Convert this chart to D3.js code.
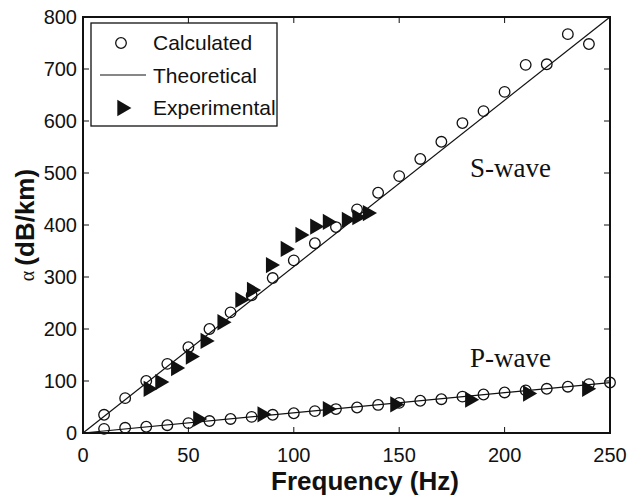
<!DOCTYPE html>
<head>
  <meta charset="utf-8">
  <script src="https://cdnjs.cloudflare.com/ajax/libs/d3/7.8.5/d3.min.js"></script>
  <style>
    body { margin:0; background:#fff; }
    text { fill:#111; }
  </style>
</head>
<body>
<div id="vis"></div>
<script>
// frequencies (Hz) for the calculated points
var freqS = [10,20,30,40,50,60,70,80,90,100,110,120,130,140,150,160,170,180,190,200,210,220,230,240];
var calcS = [35,67,100,133,165,200,232,265,298,332,365,396,430,462,494,527,560,596,619,656,708,709,767,748];
var freqP = [10,20,30,40,50,60,70,80,90,100,110,120,130,140,150,160,170,180,190,200,210,220,230,240,250];
var calcP = [8,10,12,15,19,23,27,31,35,38,42,46,49,54,58,62,65,70,74,78,82,85,89,94,97];
// experimental points
var expSf = [31,36.5,44,51,58,66,74.5,80,89,96,103,110,116,125,130,135];
var expSv = [85,98,125,147,177,213,256,275,323,354,381,397,406,410,415,423];
var expPf = [54.5,85,116,148,183.5,211,239];
var expPv = [27,36,46,55,64,76,85];
// theoretical lines (endpoints)
var theoS = [[0,0],[250,800]];
var theoP = [[0,0],[250,97]];
var xTicks = [0,50,100,150,200,250];
var yTicks = [0,100,200,300,400,500,600,700,800];

var sans = "Liberation Sans, Arial, sans-serif";
var serif = "Liberation Serif, Times New Roman, serif";

var W = 628, H = 498;
var m = {left:83, top:17, right:18, bottom:65};
var svg = d3.select("#vis").append("svg").attr("width", W).attr("height", H)
  .style("font-family", sans);
var x = d3.scaleLinear().domain([0,250]).range([m.left, W - m.right]);
var y = d3.scaleLinear().domain([0,800]).range([H - m.bottom, m.top]);

var tri = d3.symbol().type(d3.symbolTriangle).size(115);

// ticks (inside, all four sides)
var tk = 6;
svg.selectAll(".xt").data(xTicks).enter().append("g").each(function(d){
  var g = d3.select(this);
  g.append("line").attr("x1", x(d)).attr("x2", x(d)).attr("y1", y(0)).attr("y2", y(0)-tk).attr("stroke","#111");
  g.append("line").attr("x1", x(d)).attr("x2", x(d)).attr("y1", y(800)).attr("y2", y(800)+tk).attr("stroke","#111");
  g.append("text").attr("x", x(d)).attr("y", y(0)+29).attr("text-anchor","middle").attr("font-size",20).text(d);
});
svg.selectAll(".yt").data(yTicks).enter().append("g").each(function(d){
  var g = d3.select(this);
  g.append("line").attr("x1", x(0)).attr("x2", x(0)+tk).attr("y1", y(d)).attr("y2", y(d)).attr("stroke","#111");
  g.append("line").attr("x1", x(250)).attr("x2", x(250)-tk).attr("y1", y(d)).attr("y2", y(d)).attr("stroke","#111");
  g.append("text").attr("x", x(0)-6).attr("y", y(d)+7).attr("text-anchor","end").attr("font-size",20).text(d);
});

var line = d3.line().x(function(d){return x(d[0]);}).y(function(d){return y(d[1]);});
[theoS, theoP].forEach(function(t){
  svg.append("path").attr("d", line(t)).attr("fill","none").attr("stroke","#111").attr("stroke-width",1.2);
});

function circles(fs, vs) {
  svg.selectAll(null).data(fs).enter().append("circle")
    .attr("cx", function(d){return x(d);})
    .attr("cy", function(d,i){return y(vs[i]);})
    .attr("r", 5.3).attr("fill","none").attr("stroke","#111").attr("stroke-width",1.3);
}
function triangles(fs, vs) {
  svg.selectAll(null).data(fs).enter().append("path")
    .attr("d", tri)
    .attr("transform", function(d,i){return "translate(" + x(d) + "," + y(vs[i]) + ") rotate(90)";})
    .attr("fill","#111");
}
circles(freqS, calcS);
circles(freqP, calcP);
triangles(expSf, expSv);
triangles(expPf, expPv);

// frame
svg.append("rect").attr("x", m.left).attr("y", m.top)
  .attr("width", W - m.left - m.right).attr("height", H - m.top - m.bottom)
  .attr("fill","none").attr("stroke","#111").attr("stroke-width",2);

// wave labels
svg.append("text").attr("x", 470).attr("y", 177).style("font-family", serif)
  .attr("font-size",27).text("S-wave");
svg.append("text").attr("x", 470).attr("y", 367).style("font-family", serif)
  .attr("font-size",27).text("P-wave");

// axis titles
svg.append("text").attr("x", 365).attr("y", 490).attr("text-anchor","middle")
  .attr("font-size",26).attr("font-weight","bold").text("Frequency (Hz)");
var yt = svg.append("text").attr("transform","translate(34,225) rotate(-90)")
  .attr("text-anchor","middle").attr("font-size",26).attr("font-weight","bold");
yt.append("tspan").style("font-family", serif).attr("font-weight","normal").attr("font-size",20).text("α ");
yt.append("tspan").text("(dB/km)");

// legend
var lg = svg.append("g");
lg.append("rect").attr("x", 91).attr("y", 23).attr("width", 186).attr("height", 103)
  .attr("fill","#fff").attr("stroke","#111").attr("stroke-width",1.3);
lg.append("circle").attr("cx", 121).attr("cy", 43).attr("r", 5.3).attr("fill","none").attr("stroke","#111").attr("stroke-width",1.3);
lg.append("line").attr("x1", 100).attr("x2", 146).attr("y1", 75).attr("y2", 75).attr("stroke","#111").attr("stroke-width",1.2);
lg.append("path").attr("d", tri).attr("transform","translate(122,108) rotate(90)").attr("fill","#111");
var labels = ["Calculated","Theoretical","Experimental"];
lg.selectAll(null).data(labels).enter().append("text")
  .attr("x", 153).attr("y", function(d,i){return 50 + i*32.5;})
  .attr("font-size",21).text(function(d){return d;});
</script>
</body>
